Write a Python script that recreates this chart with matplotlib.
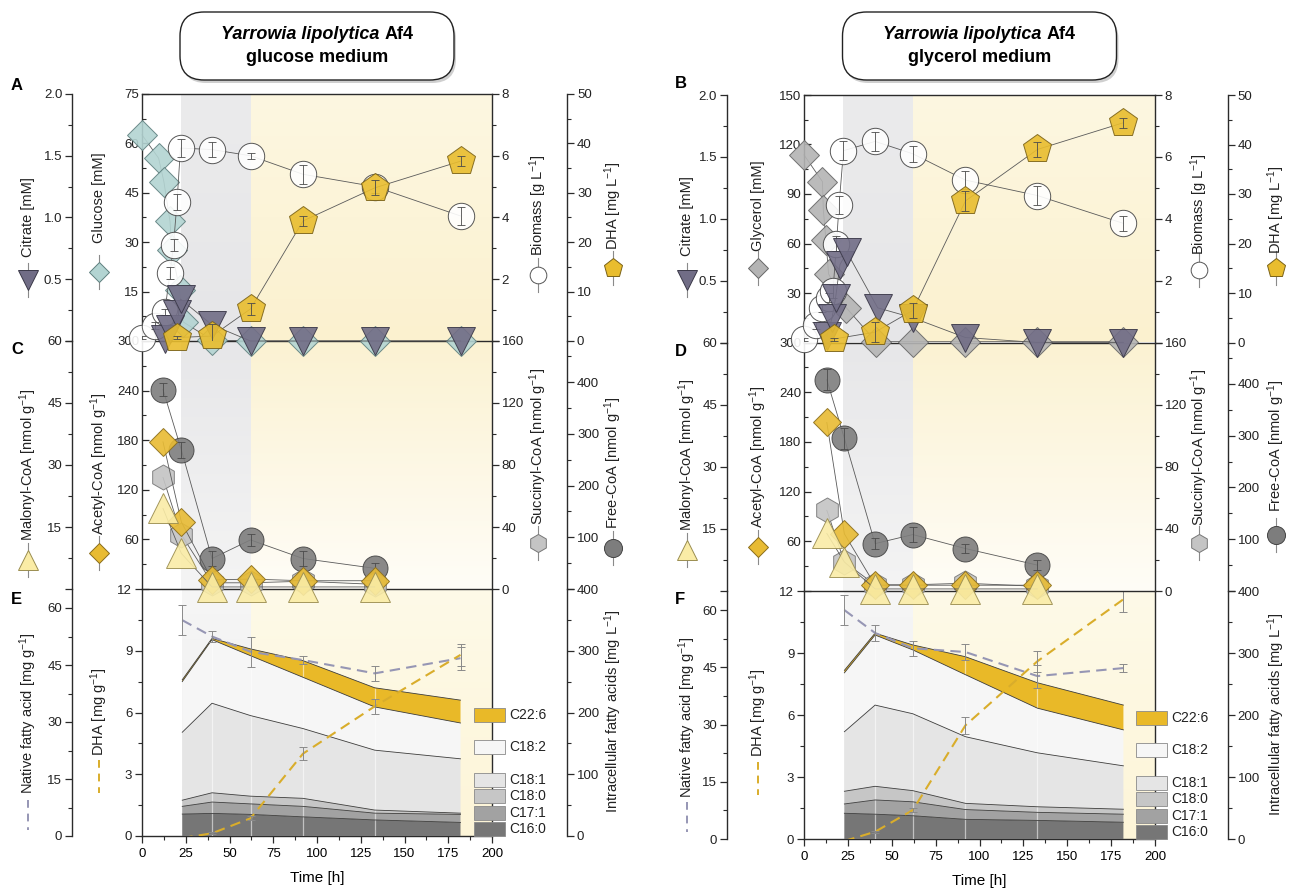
import numpy as np
import matplotlib
matplotlib.use("Agg")
import matplotlib.pyplot as plt
import matplotlib.colors as mcolors
import matplotlib.ticker as mticker
from matplotlib.lines import Line2D
from matplotlib.patches import Rectangle, FancyBboxPatch
from matplotlib.offsetbox import TextArea, HPacker, VPacker, AnnotationBbox

plt.rcParams['font.family'] = ['Liberation Sans', 'DejaVu Sans']
plt.rcParams['mathtext.fontset'] = 'custom'
plt.rcParams['mathtext.rm'] = 'Liberation Sans'
plt.rcParams['mathtext.it'] = 'Liberation Sans:italic'
plt.rcParams['mathtext.bf'] = 'Liberation Sans:bold'

#------------------- data: glucose medium -------------------#
glc_glucose_t = [0, 9.5, 12.5, 16, 17, 21.5, 23.5, 40, 62, 92, 133, 182]
glc_glucose = [62.6, 55.5, 48.4, 36.3, 27.5, 15.6, 5.8, 0.3, 0, 0, 0, 0]
glc_citrate_t = [13, 16, 20, 22, 40, 62, 92, 133, 182]
glc_citrate = [0.02, 0.1, 0.22, 0.34, 0.13, 0.0, 0.0, 0.0, 0.0]
glc_biomass_t = [0, 7.5, 13, 16, 18, 20, 22, 40, 62, 92, 133, 182]
glc_biomass = [0.1, 0.5, 0.95, 2.2, 3.1, 4.5, 6.25, 6.2, 6.0, 5.4, 5.0, 4.05]
glc_biomass_err = [0.05, 0.1, 0.1, 0.2, 0.2, 0.25, 0.3, 0.25, 0.1, 0.3, 0.2, 0.3]
glc_dha_t = [20, 40, 62, 92, 133, 182]
glc_dha = [0.7, 1.0, 6.5, 24.3, 31.0, 36.4]
glc_dha_err = [0.3, 2.5, 1.2, 1.0, 1.5, 1.0]

glc_coa_t = [12, 22.5, 40, 62, 92, 133]
glc_freecoa = [386, 269, 59, 95, 59, 40]
glc_freecoa_err = [12, 15, 15, 12, 15, 10]
glc_acetyl = [178, 81, 11, 12, 10, 10]
glc_malonyl = [19.5, 8.6, 0.5, 0.5, 0.5, 0.5]
glc_succinyl = [72, 35, 4, 4, 5, 3]

glc_fa_t = [23, 40, 62, 92, 133, 182]
glc_c160 = [35.5, 36.6, 35, 31, 26, 22]
glc_c171 = [12.5, 18.4, 17, 17, 11, 13]
glc_c180 = [10, 15, 12.5, 13, 5, 2]
glc_c181 = [110, 145, 130.5, 113, 97, 88]
glc_c182 = [82, 103, 97, 83, 70, 58]
glc_c226 = [3, 2, 11, 27, 31, 37]
glc_native = [56.8, 52.5, 48.5, 46.3, 42.8, 46.8]
glc_native_err = [4, 1.5, 4, 1, 2, 3]
glc_dha_cell = [-0.1, 0.13, 0.86, 4.0, 6.3, 8.8]
glc_dha_cell_err = [0, 0.05, 0.1, 0.3, 0.35, 0.55]

#------------------- data: glycerol medium -------------------#
gly_glycerol_t = [0, 10.5, 11, 12.5, 14, 24, 41, 62, 92, 133, 182]
gly_glycerol = [113.7, 97.5, 80.6, 62, 41.6, 21.2, 0.5, 0.5, 0.5, 0.5, 0.5]
gly_citrate_t = [13, 16, 18, 20.5, 24.5, 42, 62, 92, 133, 182]
gly_citrate = [0.05, 0.2, 0.36, 0.63, 0.73, 0.28, 0.2, 0.04, 0.0, 0.0]
gly_biomass_t = [0, 7, 10, 14, 16.5, 18.5, 20, 22.5, 40.5, 62, 92, 133, 182]
gly_biomass = [0.1, 0.55, 1.1, 1.45, 1.65, 3.2, 4.45, 6.2, 6.5, 6.1, 5.25, 4.75, 3.85]
gly_biomass_err = [0.05, 0.1, 0.1, 0.15, 0.2, 0.25, 0.3, 0.3, 0.3, 0.25, 0.3, 0.3, 0.25]
gly_dha_t = [17, 40.5, 62, 92, 133, 182]
gly_dha = [0.7, 2.1, 6.5, 28.6, 39.0, 44.4]
gly_dha_err = [0.3, 2.0, 1.5, 2.0, 1.5, 1.0]

gly_coa_t = [13, 23, 40.5, 62, 92, 133]
gly_freecoa = [408, 295, 91.5, 109, 82, 50]
gly_freecoa_err = [20, 20, 10, 15, 8, 10]
gly_acetyl = [203.5, 69, 7, 7, 7, 7]
gly_malonyl = [13.9, 7, 0.5, 0.5, 0.5, 0.5]
gly_succinyl = [52, 18.7, 4, 4, 5, 3]

gly_fa_t = [23, 40.5, 62, 92, 133, 182]
gly_c160 = [41.5, 40, 37.5, 31.7, 30, 27]
gly_c171 = [15, 23, 22.5, 15.8, 13, 13]
gly_c180 = [20.5, 22, 18, 10, 9, 8]
gly_c181 = [96, 131, 124, 107.5, 87, 70]
gly_c182 = [95, 113, 103, 100, 72, 58]
gly_c226 = [4, 3, 8, 29, 41, 40]
gly_native = [60, 54, 50, 49, 42.7, 44.8]
gly_native_err = [4, 2, 2, 2, 3, 1]
gly_dha_cell = [-0.1, 0.35, 1.4, 5.5, 8.6, 11.6]
gly_dha_cell_err = [0, 0.05, 0.1, 0.4, 0.5, 0.6]

fa_names = ['C16:0', 'C17:1', 'C18:0', 'C18:1', 'C18:2', 'C22:6']

#------------------- style -------------------#
W, H = 1293, 891
AX_C = '#2b2b2b'
LINE_C = '#5a5a5a'
FA_COLORS = ['#767676', '#a2a2a2', '#c6c6c6', '#e5e5e5', '#f6f6f6', '#e9b928']
NATIVE_C = '#9696b4'
DHA_LINE = '#d9ad2b'

fig = plt.figure(figsize=(W / 100, H / 100), dpi=100)


def rect(l, r, t, b):
    return [l / W, 1 - b / H, (r - l) / W, (b - t) / H]


def clear(ax):
    for s in ax.spines.values():
        s.set_visible(False)
        s.set_color(AX_C)
        s.set_linewidth(1.0)


def twin(main):
    ax = fig.add_axes(main.get_position().bounds, sharex=main)
    ax.patch.set_visible(False)
    clear(ax)
    ax.tick_params(axis='x', which='both', bottom=False, top=False, labelbottom=False)
    ax.tick_params(axis='y', which='both', left=False, right=False,
                   labelleft=False, labelright=False)
    return ax


def yconf(ax, side, lo, hi, step, minor, hide=(), fmt='{:.0f}', pos=None, direction='out'):
    ax.set_ylim(lo, hi)
    sp = ax.spines[side]
    sp.set_visible(True)
    if pos is not None:
        sp.set_position(('axes', pos))
    ticks = np.arange(lo, hi + 1e-6, step)
    ax.set_yticks(ticks)
    ax.set_yticklabels(['' if any(abs(v - h) < 1e-6 for h in hide) else fmt.format(v)
                        for v in ticks])
    ax.yaxis.set_minor_locator(mticker.MultipleLocator(minor))
    left = side == 'left'
    ax.tick_params(axis='y', which='both', left=left, right=not left, labelleft=left,
                   labelright=not left, direction=direction, color=AX_C)
    ax.tick_params(axis='y', which='major', length=5, width=0.9, labelsize=9.5, pad=2,
                   labelcolor='#222222')
    ax.tick_params(axis='y', which='minor', length=3, width=0.8)


def shade(ax, lo, hi, band, gray, yellow):
    frac = np.linspace(0, 1, 128)[:, None, None]
    for (x0, x1), (ct, cb) in zip([(band[0], band[1]), (band[1], 200)], [gray, yellow]):
        a = np.array(mcolors.to_rgb(ct))
        b = np.array(mcolors.to_rgb(cb))
        ax.imshow(a * (1 - frac) + b * frac, extent=[x0, x1, lo, hi], origin='upper',
                  aspect='auto', zorder=0, interpolation='bilinear')


def series(ax, t, v, marker, ms, fc, ec, err=None):
    ax.plot(t, v, color=LINE_C, lw=0.6, zorder=2, clip_on=False)
    ax.plot(t, v, ls='none', marker=marker, ms=ms, mfc=fc, mec=ec, mew=0.7,
            alpha=0.9, zorder=3, clip_on=False)
    if err is not None:
        ax.errorbar(t, v, yerr=err, fmt='none', ecolor='#4a4a4a', elinewidth=0.6,
                    capsize=3, capthick=0.6, zorder=4)


def axis_label(xp, yc, text, my=None, marker=None, ms=12, fc='w', ec='k', dash=None):
    fig.text(xp / W, 1 - yc / H, text, rotation=90, ha='center', va='center',
             fontsize=10.5, color='#222222')
    if marker is not None:
        fig.add_artist(Line2D([xp / W] * 2, [1 - (my - 17) / H, 1 - (my + 17) / H],
                              color='#8a8a8a', lw=0.8))
        fig.add_artist(Line2D([xp / W], [1 - my / H], marker=marker, ms=ms, mfc=fc,
                              mec=ec, mew=0.7, ls='none'))
    if dash is not None:
        col, y0, y1 = dash
        fig.add_artist(Line2D([xp / W] * 2, [1 - y0 / H, 1 - y1 / H], color=col,
                              lw=1.4, ls=(0, (4, 3))))


def title_box(cx, medium):
    x0, x1, y0, y1 = cx - 137, cx + 137, 12, 80
    for dx, dy, fc, ec in [(2, -3, '#cfcfcf', 'none'), (0, 0, 'white', '#222222')]:
        fig.add_artist(FancyBboxPatch(((x0 + dx) / 100, (H - y1 + dy) / 100),
                                      (x1 - x0) / 100, (y1 - y0) / 100,
                                      boxstyle='round,pad=0,rounding_size=0.24',
                                      transform=fig.dpi_scale_trans, fc=fc, ec=ec, lw=1.0))
    line1 = HPacker(children=[
        TextArea('Yarrowia lipolytica', textprops=dict(style='italic', weight='bold', size=13)),
        TextArea('Af4', textprops=dict(weight='bold', size=13))], sep=4, pad=0, align='baseline')
    line2 = TextArea(medium, textprops=dict(weight='bold', size=13))
    pack = VPacker(children=[line1, line2], align='center', pad=0, sep=4)
    fig.add_artist(AnnotationBbox(pack, (cx / W, 1 - 46 / H), xycoords='figure fraction',
                                  frameon=False, box_alignment=(0.5, 0.5)))


def build_side(g, d):
    L, R = g['x']
    tA, tC, tE, bE = g['y']
    band = (22, 62)

    # ---- fatty acids (bottom) ----
    axE = fig.add_axes(rect(L, R, tE, bE))
    clear(axE)
    shade(axE, 0, 12, (23, 62), ('#f6f6f6', '#ececec'), ('#fefae8', '#fdf5d8'))
    yconf(axE, 'left', 0, 12, 3, 1.5)
    axE.spines['bottom'].set_visible(True)
    axE.spines['right'].set_visible(True)
    axE.set_xticks(np.arange(0, 201, 25))
    axE.xaxis.set_minor_locator(mticker.MultipleLocator(12.5))
    axE.tick_params(axis='x', which='both', direction='out', color=AX_C, labelsize=9.5)
    axE.tick_params(axis='x', which='major', length=5, width=0.9)
    axE.tick_params(axis='x', which='minor', length=3, width=0.8)
    axE.set_xlabel('Time [h]', fontsize=11, labelpad=8)

    axFA = twin(axE)
    yconf(axFA, 'right', 0, 400, 100, 50, pos=g['far_right'])
    t = d['fa_t']
    tops = np.cumsum(np.array(d['fa']), axis=0)
    lower = np.zeros(len(t))
    for top, col in zip(tops, FA_COLORS):
        axFA.fill_between(t, lower, top, facecolor=col, edgecolor='none', zorder=1)
        lower = top
    axFA.vlines(t[1:-1], 0, tops[-1][1:-1], colors='white', lw=0.9, alpha=0.55, zorder=1.5)
    for top in tops:
        axFA.plot(t, top, color='#3c3c3c', lw=0.6, zorder=2)

    axNat = twin(axE)
    yconf(axNat, 'left', 0, 65, 15, 7.5, pos=g['far_left'])
    axNat.plot(t, d['native'], color=NATIVE_C, lw=1.5, ls=(0, (5, 3)), zorder=3)
    axNat.errorbar(t, d['native'], yerr=d['native_err'], fmt='none', ecolor='#8a8a8a',
                   elinewidth=0.7, capsize=3, capthick=0.7, zorder=4)

    axDc = twin(axE)
    axDc.set_ylim(0, 12)
    axDc.plot(t, d['dha_cell'], color=DHA_LINE, lw=1.5, ls=(0, (5, 3)), zorder=3)
    axDc.errorbar(t, d['dha_cell'], yerr=d['dha_cell_err'], fmt='none', ecolor='#8a8a8a',
                  elinewidth=0.7, capsize=3, capthick=0.7, zorder=4)

    # ---- CoA esters (middle) ----
    axC = fig.add_axes(rect(L, R, tC, tE), sharex=axE)
    clear(axC)
    shade(axC, 0, 300, band, ('#e7e7e9', '#f4f4f4'), ('#fbf2d2', '#fffdf7'))
    yconf(axC, 'left', 0, 300, 60, 30, hide=(0,), direction='in')
    axC.spines['bottom'].set_visible(True)
    axC.tick_params(axis='x', which='both', bottom=False, labelbottom=False)

    ct = d['coa_t']
    axFree = twin(axC)
    yconf(axFree, 'right', 0, 480, 100, 50, hide=(0,), pos=g['far_right'])
    series(axFree, ct, d['freecoa'], 'o', 18, '#7d7d7d', '#444444', d['freecoa_err'])
    axSuc = twin(axC)
    yconf(axSuc, 'right', 0, 160, 40, 20)
    series(axSuc, ct, d['succinyl'], 'h', 18, '#c4c4c4', '#777777')
    axAce = twin(axC)
    axAce.set_ylim(0, 300)
    series(axAce, ct, d['acetyl'], 'D', 14, '#e8bb33', '#8a6d1a')
    axMal = twin(axC)
    yconf(axMal, 'left', 0, 60, 15, 7.5, hide=(0,), pos=g['far_left'])
    series(axMal, ct, d['malonyl'], '^', 21, '#faeca6', '#9a8d50')

    # ---- substrates, biomass, DHA titre (top) ----
    axA = fig.add_axes(rect(L, R, tA, tC), sharex=axE)
    clear(axA)
    shade(axA, 0, g['sub_max'], band, ('#ebebec', '#e6e6e8'), ('#fdf7e1', '#fbf1cf'))
    yconf(axA, 'left', 0, g['sub_max'], g['sub_step'], g['sub_step'] / 2, hide=(0,),
          direction='in')
    axA.spines['top'].set_visible(True)
    axA.spines['bottom'].set_visible(True)
    axA.tick_params(axis='x', which='both', bottom=False, labelbottom=False)
    series(axA, d['sub_t'], d['sub'], 'D', 15, d['sub_fc'], d['sub_ec'])

    axBio = twin(axA)
    yconf(axBio, 'right', 0, 8, 2, 1, hide=(0,))
    series(axBio, d['bio_t'], d['bio'], 'o', 19, 'white', '#444444', d['bio_err'])
    axCit = twin(axA)
    yconf(axCit, 'left', 0, 2, 0.5, 0.25, hide=(0,), fmt='{:.1f}', pos=g['far_left'])
    series(axCit, d['cit_t'], d['cit'], 'v', 20, '#716d86', '#3a3848')
    axDHA = twin(axA)
    yconf(axDHA, 'right', 0, 50, 10, 5, pos=g['far_right'])
    series(axDHA, d['dha_t'], d['dha'], 'p', 21, '#e9bd2e', '#7a6218', d['dha_err'])

    axE.set_xlim(0, 200)

    # ---- axis titles with symbols ----
    lx = g['lab_x']
    ly = g['lab_y']
    axis_label(lx[0], ly[0], 'Citrate [mM]', ly[1], 'v', 14, '#716d86', '#3a3848')
    axis_label(lx[1], ly[2], d['sub_name'] + ' [mM]', ly[3], 'D', 10, d['sub_fc'], d['sub_ec'])
    axis_label(lx[2], ly[4], r'Biomass [g L$^{-1}$]', ly[5], 'o', 12, 'white', '#555555')
    axis_label(lx[3], ly[6], r'DHA [mg L$^{-1}$]', ly[7], 'p', 14, '#e9bd2e', '#7a6218')
    axis_label(lx[0], ly[8], r'Malonyl-CoA [nmol g$^{-1}$]', ly[9], '^', 14, '#faeca6', '#9a8d50')
    axis_label(lx[1], ly[10], r'Acetyl-CoA [nmol g$^{-1}$]', ly[11], 'D', 10, '#e8bb33', '#8a6d1a')
    axis_label(lx[2], ly[12], r'Succinyl-CoA [nmol g$^{-1}$]', ly[13], 'h', 13, '#c4c4c4', '#777777')
    axis_label(lx[3], ly[14], r'Free-CoA [nmol g$^{-1}$]', ly[15], 'o', 13, '#7d7d7d', '#444444')
    axis_label(lx[0], ly[16], r'Native fatty acid [mg g$^{-1}$]',
               dash=(NATIVE_C, ly[17], ly[17] + 30))
    axis_label(lx[1], ly[18], r'DHA [mg g$^{-1}$]', dash=(DHA_LINE, ly[19], ly[19] + 33))
    axis_label(lx[4], ly[20], r'Intracellular fatty acids [mg L$^{-1}$]')

    # ---- fatty acid legend ----
    sx = g['sw_x']
    for name, col, up in zip(fa_names, FA_COLORS, [14, 30, 47, 63, 96, 128]):
        ytop = bE - up
        fig.add_artist(Rectangle((sx / W, 1 - (ytop + 14) / H), 31 / W, 14 / H,
                                 transform=fig.transFigure, fc=col, ec='#8a8a8a', lw=0.6))
        fig.text((sx + 35) / W, 1 - (ytop + 7) / H, name, ha='left', va='center',
                 fontsize=10, color='#222222')

    for letter, (px, py) in zip(g['letters'], g['letter_xy']):
        fig.text(px / W, 1 - py / H, letter, fontsize=12, fontweight='bold',
                 ha='left', va='center')
    title_box((L + R) / 2, d['medium'])


geo_glc = dict(x=(142, 492), y=(94, 341, 589, 836), far_left=-0.2, far_right=1.215,
               sub_max=75, sub_step=15,
               lab_x=(28, 99, 538, 613, 613),
               lab_y=(217, 280, 198, 272, 205, 275, 206, 268, 465, 560, 464, 553,
                      446, 543, 463, 548, 713, 800, 712, 760, 711),
               sw_x=474, letters=('A', 'C', 'E'),
               letter_xy=((11, 85), (11, 350), (11, 599)))
geo_gly = dict(x=(804, 1155), y=(95, 342.5, 591, 839), far_left=-0.22, far_right=1.208,
               sub_max=150, sub_step=30,
               lab_x=(687, 758, 1199, 1276, 1276),
               lab_y=(216, 280, 206, 268, 204, 270, 210, 268, 455, 550, 457, 547,
                      447, 543, 446, 535, 717, 802, 713, 762, 714),
               sw_x=1136, letters=('B', 'D', 'F'),
               letter_xy=((675, 84), (675, 351), (675, 599)))

data_glc = dict(medium='glucose medium', sub_name='Glucose',
                sub_t=glc_glucose_t, sub=glc_glucose, sub_fc='#b3d4d2', sub_ec='#5e7f7e',
                cit_t=glc_citrate_t, cit=glc_citrate,
                bio_t=glc_biomass_t, bio=glc_biomass, bio_err=glc_biomass_err,
                dha_t=glc_dha_t, dha=glc_dha, dha_err=glc_dha_err,
                coa_t=glc_coa_t, freecoa=glc_freecoa, freecoa_err=glc_freecoa_err,
                acetyl=glc_acetyl, malonyl=glc_malonyl, succinyl=glc_succinyl,
                fa_t=glc_fa_t, fa=[glc_c160, glc_c171, glc_c180, glc_c181, glc_c182, glc_c226],
                native=glc_native, native_err=glc_native_err,
                dha_cell=glc_dha_cell, dha_cell_err=glc_dha_cell_err)
data_gly = dict(medium='glycerol medium', sub_name='Glycerol',
                sub_t=gly_glycerol_t, sub=gly_glycerol, sub_fc='#b4b4b4', sub_ec='#666666',
                cit_t=gly_citrate_t, cit=gly_citrate,
                bio_t=gly_biomass_t, bio=gly_biomass, bio_err=gly_biomass_err,
                dha_t=gly_dha_t, dha=gly_dha, dha_err=gly_dha_err,
                coa_t=gly_coa_t, freecoa=gly_freecoa, freecoa_err=gly_freecoa_err,
                acetyl=gly_acetyl, malonyl=gly_malonyl, succinyl=gly_succinyl,
                fa_t=gly_fa_t, fa=[gly_c160, gly_c171, gly_c180, gly_c181, gly_c182, gly_c226],
                native=gly_native, native_err=gly_native_err,
                dha_cell=gly_dha_cell, dha_cell_err=gly_dha_cell_err)

build_side(geo_glc, data_glc)
build_side(geo_gly, data_gly)

fig.savefig('out.png', dpi=100)
